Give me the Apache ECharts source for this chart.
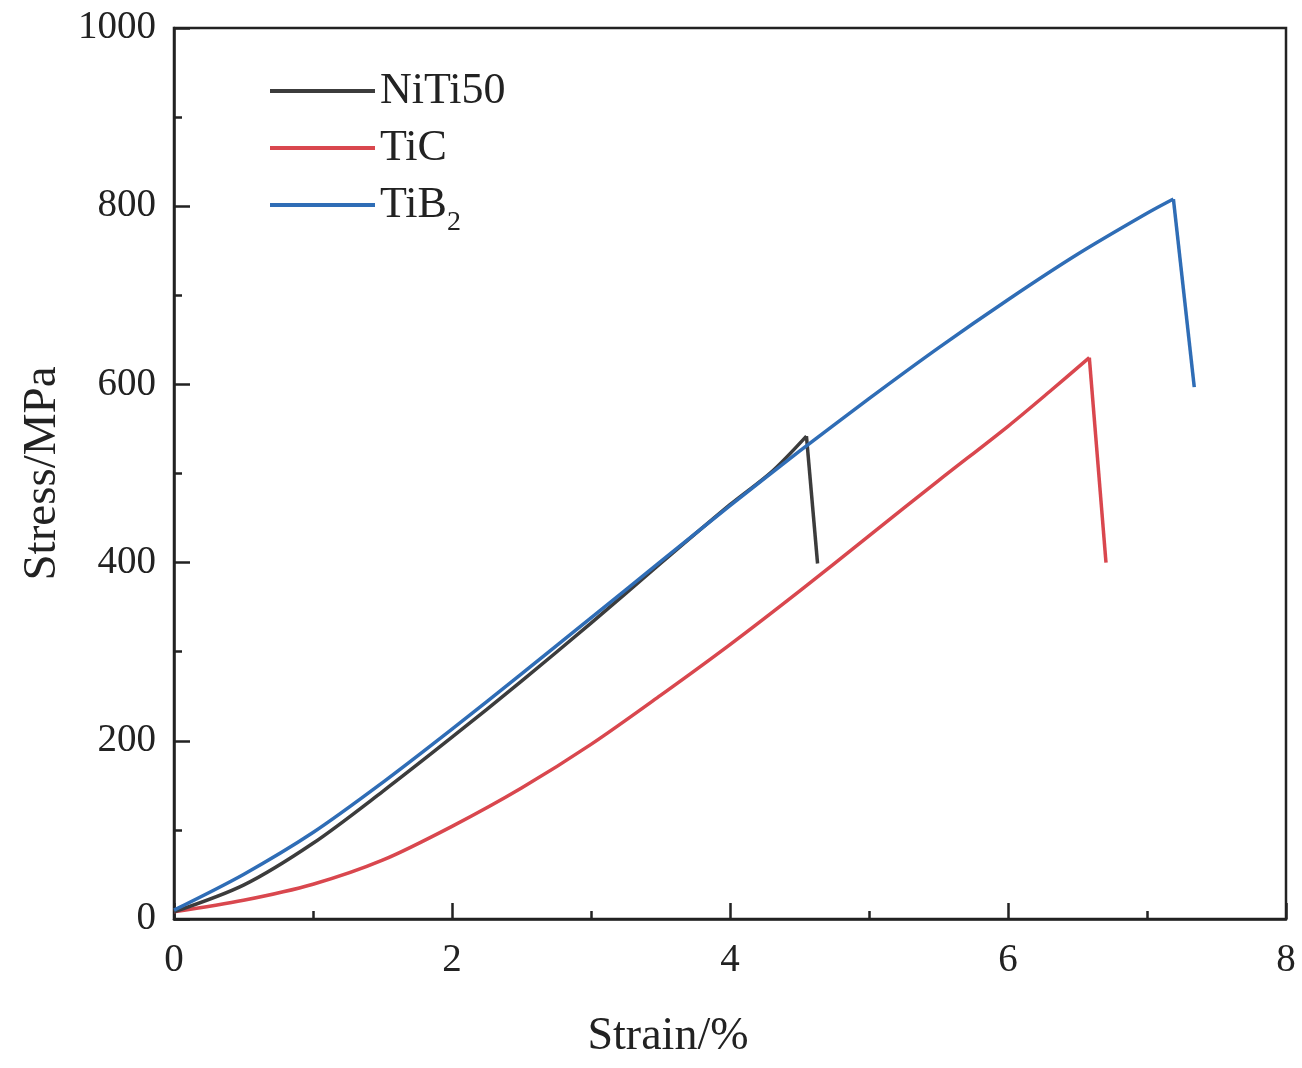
<!DOCTYPE html>
<html>
<head>
<meta charset="utf-8">
<script src="https://cdn.jsdelivr.net/npm/echarts@6/dist/echarts.min.js"></script>
<style>html,body{margin:0;padding:0;background:#fff}#c{width:1302px;height:1068px}</style>
</head>
<body>
<div id="c"></div>
<script>
// Data (rising curve, then the final fracture drop)
const seriesNames = ['NiTi50', 'TiC', 'TiB2'];
const nitiStrain = [0, 0.5, 1, 1.5, 2, 2.5, 3, 3.5, 4, 4.3, 4.55];
const nitiStress = [8, 38, 85, 143, 204, 267, 332, 399, 465, 502, 542];
const nitiDropStrain = [4.55, 4.63];
const nitiDropStress = [542, 399];
const ticStrain = [0, 0.5, 1, 1.5, 2, 2.5, 3, 3.5, 4, 4.5, 5, 5.5, 6, 6.3, 6.585];
const ticStress = [8, 21, 39, 66, 104, 147, 196, 251, 308, 368, 430, 492, 553, 592, 630];
const ticDropStrain = [6.585, 6.705];
const ticDropStress = [630, 400];
const tib2Strain = [0, 0.5, 1, 1.5, 2, 2.5, 3, 3.5, 4, 4.5, 5, 5.5, 6, 6.5, 7, 7.19];
const tib2Stress = [10, 50, 97, 153, 213, 275, 338, 401, 464, 525, 584, 641, 695, 746, 792, 808];
const tib2DropStrain = [7.19, 7.34];
const tib2DropStress = [808, 597];
const xAxisName = 'Strain/%';
const yAxisName = 'Stress/MPa';

const zip = (a, b) => a.map((v, i) => [v, b[i]]);
const colors = ['#3c3c3c', '#d9474e', '#2f6db6'];
const font = 'Liberation Serif';

function curve(name, color, data, z) {
  return { name, type: 'line', data, showSymbol: false, smooth: 0.3,
    lineStyle: { width: 3.5, color, join: 'round' }, itemStyle: { color }, z };
}
function drop(name, color, data, z) {
  return { name, type: 'line', data, showSymbol: false, smooth: false,
    lineStyle: { width: 3.5, color, join: 'round' }, itemStyle: { color }, z };
}

const chart = echarts.init(document.getElementById('c'));
chart.setOption({
  animation: false,
  backgroundColor: '#fff',
  grid: { left: 174, right: 16, top: 28, bottom: 149, show: true, borderColor: '#222', borderWidth: 2.5, backgroundColor: 'transparent' },
  legend: {
    orient: 'vertical', left: 265, top: 64,
    itemWidth: 105, itemHeight: 4, itemGap: 13,
    icon: 'rect',
    data: seriesNames,
    formatter: n => n === 'TiB2' ? 'TiB{sub|2}' : n,
    textStyle: { fontFamily: font, fontSize: 44, color: '#222', padding: [0, 0, 0, 0],
      rich: { sub: { fontFamily: font, fontSize: 28, color: '#222', verticalAlign: 'bottom', padding: [0, 0, -10, 0] } } }
  },
  xAxis: {
    type: 'value', min: 0, max: 8, interval: 2,
    name: xAxisName, nameLocation: 'middle', nameGap: 95,
    nameTextStyle: { fontFamily: font, fontSize: 46, color: '#222', padding: [0, 124, 0, 0] },
    axisLine: { show: true, onZero: false, lineStyle: { color: '#222', width: 2.5 } },
    axisTick: { show: true, inside: true, length: 16, lineStyle: { color: '#222', width: 2.5 } },
    minorTick: { show: true, splitNumber: 2, length: 8, lineStyle: { color: '#222', width: 2.5 } },
    axisLabel: { fontFamily: font, fontSize: 39, color: '#222', margin: 22 },
    splitLine: { show: false }
  },
  yAxis: {
    type: 'value', min: 0, max: 1000, interval: 200,
    name: yAxisName, nameLocation: 'middle', nameGap: 108,
    nameTextStyle: { fontFamily: font, fontSize: 47, color: '#222' },
    axisLine: { show: true, lineStyle: { color: '#222', width: 2.5 } },
    axisTick: { show: true, inside: true, length: 16, lineStyle: { color: '#222', width: 2.5 } },
    minorTick: { show: true, splitNumber: 2, length: 8, lineStyle: { color: '#222', width: 2.5 } },
    axisLabel: { fontFamily: font, fontSize: 39, color: '#222', margin: 18, formatter: v => String(v) },
    splitLine: { show: false }
  },
  series: [
    curve(seriesNames[0], colors[0], zip(nitiStrain, nitiStress), 3),
    drop(seriesNames[0], colors[0], zip(nitiDropStrain, nitiDropStress), 3),
    curve(seriesNames[1], colors[1], zip(ticStrain, ticStress), 2),
    drop(seriesNames[1], colors[1], zip(ticDropStrain, ticDropStress), 2),
    curve(seriesNames[2], colors[2], zip(tib2Strain, tib2Stress), 4),
    drop(seriesNames[2], colors[2], zip(tib2DropStrain, tib2DropStress), 4)
  ]
});
</script>
</body>
</html>
